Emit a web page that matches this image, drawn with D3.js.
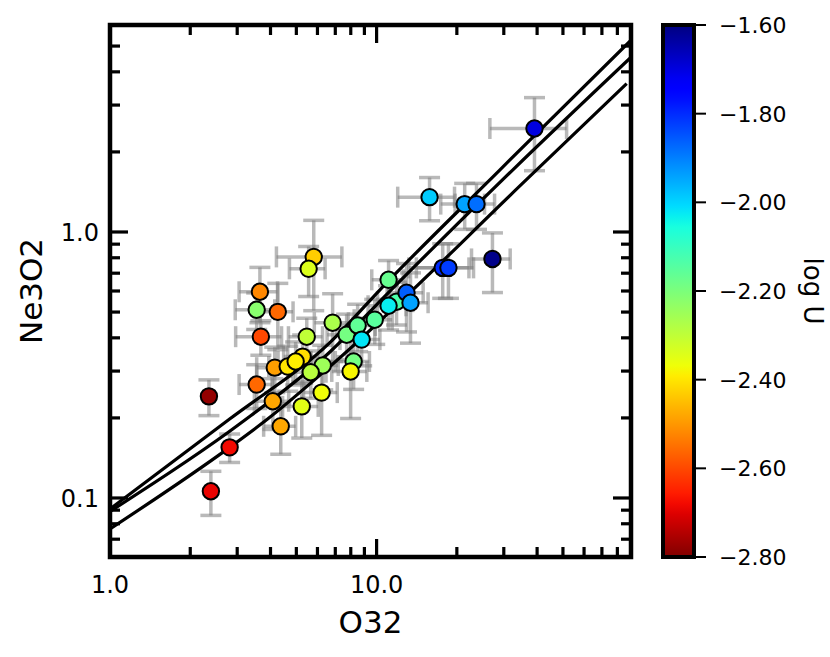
<!DOCTYPE html>
<html>
<head>
<meta charset="utf-8">
<script src="https://cdn.jsdelivr.net/npm/d3@7"></script>
<style>
  html, body { margin: 0; padding: 0; background: #fff; }
  svg { display: block; font-family: "DejaVu Sans", sans-serif; }
</style>
</head>
<body>
<svg id="chart" width="830" height="657"></svg>
<script>
// ---------------- data ----------------
const o32 = [2.35, 2.39, 2.81, 5.81, 5.56, 3.65, 3.55, 4.26, 3.68, 5.47,
             6.84, 7.72, 8.49, 8.79, 9.84, 11.09, 11.88, 11.09, 12.95, 13.40,
             4.15, 4.64, 5.28, 4.97, 6.28, 5.66, 8.20, 7.99, 3.55, 6.22,
             4.08, 5.24, 4.37, 15.8, 21.4, 23.7, 27.2, 17.7, 18.6, 39.1];
const ne3o2 = [0.241, 0.106, 0.155, 0.806, 0.727, 0.596, 0.510, 0.501, 0.404, 0.404,
               0.456, 0.411, 0.445, 0.394, 0.468, 0.661, 0.547, 0.528, 0.591, 0.542,
               0.309, 0.312, 0.340, 0.326, 0.315, 0.297, 0.326, 0.299, 0.267, 0.249,
               0.231, 0.221, 0.186, 1.352, 1.273, 1.273, 0.792, 0.733, 0.733, 2.45];
const logU = [-2.78, -2.69, -2.68, -2.43, -2.34, -2.52, -2.22, -2.56, -2.60, -2.30,
              -2.27, -2.19, -2.16, -2.02, -2.15, -2.17, -2.13, -2.03, -1.86, -1.94,
              -2.49, -2.40, -2.41, -2.39, -2.25, -2.29, -2.19, -2.38, -2.56, -2.37,
              -2.48, -2.35, -2.48, -1.99, -1.94, -1.88, -1.61, -1.80, -1.82, -1.70];
const o32Err = [0, 0, 0, 1.6, 0.85, 0.6, 0.6, 0.6, 0.72, 0.8,
                1.0, 1.2, 1.4, 1.5, 1.6, 1.5, 1.8, 1.8, 2.0, 2.2,
                0.6, 0.7, 0.8, 0.7, 0.9, 0.8, 1.2, 1.2, 0.5, 0.9,
                0.6, 0.8, 0.6, 3.8, 4.0, 4.0, 4.5, 4.5, 4.5, 12.5];
const ne3o2Err = [0.037, 0.02, 0.019, 0.30, 0.155, 0.14, 0.08, 0.14, 0.06, 0.07,
                  0.13, 0.08, 0.09, 0.08, 0.09, 0.12, 0.10, 0.10, 0.17, 0.16,
                  0.06, 0.06, 0.07, 0.06, 0.06, 0.06, 0.07, 0.10, 0.05, 0.077,
                  0.05, 0.053, 0.04, 0.25, 0.25, 0.25, 0.20, 0.17, 0.17, 0.75];

// model curves
const modelA_O32 = [1.0, 2.81, 6.68, 10.9, 28.9, 89.6];
const modelA_Ne3O2 = [0.091, 0.198, 0.384, 0.644, 1.706, 5.24];
const modelB_O32 = [1.0, 3.07, 6.68, 11.1, 32.3, 89.6];
const modelB_Ne3O2 = [0.089, 0.19, 0.354, 0.593, 1.706, 4.52];
const modelC_O32 = [1.0, 2.81, 3.90, 6.68, 37.3, 86.7];
const modelC_Ne3O2 = [0.0765, 0.155, 0.198, 0.312, 1.607, 3.61];

const xDomain = [1, 90];
const yDomain = [0.06, 6];
const xMajor = [1, 10];
const xMajorLabels = ["1.0", "10.0"];
const yMajor = [0.1, 1];
const yMajorLabels = ["0.1", "1.0"];
const cbDomain = [-2.8, -1.6];
const cbTicks = [-1.6, -1.8, -2.0, -2.2, -2.4, -2.6, -2.8];
const cbTickLabels = ["\u22121.60", "\u22121.80", "\u22122.00", "\u22122.20", "\u22122.40", "\u22122.60", "\u22122.80"];

// ---------------- layout ----------------
const L = 110, R = 631, T = 25, B = 557;
const svg = d3.select("#chart");
const x = d3.scaleLog().domain(xDomain).range([L, R]);
const y = d3.scaleLog().domain(yDomain).range([B, T]);

// jet colormap (matplotlib segment data), reversed
const jr = d3.scaleLinear().domain([0, 0.35, 0.66, 0.89, 1]).range([0, 0, 1, 1, 0.5]).clamp(true);
const jg = d3.scaleLinear().domain([0, 0.125, 0.375, 0.64, 0.91, 1]).range([0, 0, 1, 1, 0, 0]).clamp(true);
const jb = d3.scaleLinear().domain([0, 0.11, 0.34, 0.65, 1]).range([0.5, 1, 1, 0, 0]).clamp(true);
const tScale = d3.scaleLinear().domain(cbDomain).range([1, 0]).clamp(true);
function jetR(v) {
  const t = tScale(v);
  return d3.rgb(jr(t) * 255, jg(t) * 255, jb(t) * 255).formatHex();
}

const defs = svg.append("defs");
defs.append("clipPath").attr("id", "plotclip")
  .append("rect").attr("x", L).attr("y", T).attr("width", R - L).attr("height", B - T);

// ---------------- error bars ----------------
const pts = o32.map((d, i) => ({x: d, y: ne3o2[i], u: logU[i], xe: o32Err[i], ye: ne3o2Err[i]}));
const eg = svg.append("g").attr("clip-path", "url(#plotclip)")
  .attr("stroke", "#808080").attr("stroke-opacity", 0.55).attr("stroke-width", 3.5).attr("fill", "none");
const cap = 10.5;
pts.forEach(p => {
  const cx = x(p.x), cy = y(p.y);
  if (p.ye > 0) {
    const y1 = y(p.y + p.ye), y2 = y(Math.max(p.y - p.ye, 1e-4));
    eg.append("line").attr("x1", cx).attr("x2", cx).attr("y1", y1).attr("y2", y2);
    eg.append("line").attr("x1", cx - cap).attr("x2", cx + cap).attr("y1", y1).attr("y2", y1);
    eg.append("line").attr("x1", cx - cap).attr("x2", cx + cap).attr("y1", y2).attr("y2", y2);
  }
  if (p.xe > 0) {
    const x1 = x(Math.max(p.x - p.xe, 1e-4)), x2 = x(p.x + p.xe);
    eg.append("line").attr("x1", x1).attr("x2", x2).attr("y1", cy).attr("y2", cy);
    eg.append("line").attr("x1", x1).attr("x2", x1).attr("y1", cy - cap).attr("y2", cy + cap);
    eg.append("line").attr("x1", x2).attr("x2", x2).attr("y1", cy - cap).attr("y2", cy + cap);
  }
});

// ---------------- model curves ----------------
const line = d3.line().x(d => x(d[0])).y(d => y(d[1])).curve(d3.curveMonotoneX);
const cg = svg.append("g").attr("clip-path", "url(#plotclip)");
[[modelA_O32, modelA_Ne3O2], [modelB_O32, modelB_Ne3O2], [modelC_O32, modelC_Ne3O2]].forEach(([xs, ys]) => {
  cg.append("path").datum(xs.map((v, i) => [v, ys[i]]))
    .attr("d", line).attr("fill", "none").attr("stroke", "#000").attr("stroke-width", 3.2);
});

// ---------------- points ----------------
svg.append("g").selectAll("circle").data(pts).join("circle")
  .attr("cx", d => x(d.x)).attr("cy", d => y(d.y)).attr("r", 8.2)
  .attr("fill", d => jetR(d.u)).attr("stroke", "#000").attr("stroke-width", 2);

// ---------------- ticks ----------------
const tg = svg.append("g").attr("stroke", "#000").attr("stroke-width", 3.2);
const majLen = 18, minLen = 10;
x.ticks().forEach(v => {
  const isMaj = xMajor.some(m => Math.abs(m - v) < 1e-9);
  const len = isMaj ? majLen : minLen;
  const px = x(v);
  if (px <= L + 1 || px >= R - 1) return;
  tg.append("line").attr("x1", px).attr("x2", px).attr("y1", B).attr("y2", B - len);
  tg.append("line").attr("x1", px).attr("x2", px).attr("y1", T).attr("y2", T + len);
});
y.ticks().forEach(v => {
  const isMaj = yMajor.some(m => Math.abs(m - v) < 1e-9);
  const len = isMaj ? majLen : minLen;
  const py = y(v);
  if (py <= T + 1 || py >= B - 1) return;
  tg.append("line").attr("x1", L).attr("x2", L + len).attr("y1", py).attr("y2", py);
  tg.append("line").attr("x1", R).attr("x2", R - len).attr("y1", py).attr("y2", py);
});

// frame
svg.append("rect").attr("x", L).attr("y", T).attr("width", R - L).attr("height", B - T)
  .attr("fill", "none").attr("stroke", "#000").attr("stroke-width", 4.5);

// tick labels
xMajor.forEach((v, i) => {
  svg.append("text").attr("x", x(v)).attr("y", 593).attr("text-anchor", "middle")
    .attr("font-size", 24).text(xMajorLabels[i]);
});
yMajor.forEach((v, i) => {
  svg.append("text").attr("x", 99).attr("y", y(v)).attr("dy", "0.36em").attr("text-anchor", "end")
    .attr("font-size", 24).text(yMajorLabels[i]);
});

// axis labels
svg.append("text").attr("x", (L + R) / 2).attr("y", 633).attr("text-anchor", "middle")
  .attr("font-size", 31).text("O32");
svg.append("text").attr("transform", `translate(42,${(T + B) / 2}) rotate(-90)`)
  .attr("text-anchor", "middle").attr("font-size", 31).text("Ne3O2");

// ---------------- colorbar ----------------
const cbX = 663, cbW = 31;
const cy = d3.scaleLinear().domain(cbDomain).range([B, T]);
const grad = defs.append("linearGradient").attr("id", "cbgrad")
  .attr("x1", 0).attr("y1", 1).attr("x2", 0).attr("y2", 0);
d3.range(0, 1.0001, 0.02).forEach(f => {
  const v = cbDomain[0] + f * (cbDomain[1] - cbDomain[0]);
  grad.append("stop").attr("offset", f).attr("stop-color", jetR(v));
});
svg.append("rect").attr("x", cbX).attr("y", T).attr("width", cbW).attr("height", B - T)
  .attr("fill", "url(#cbgrad)").attr("stroke", "#000").attr("stroke-width", 4);
cbTicks.forEach((v, i) => {
  const py = cy(v);
  svg.append("line").attr("x1", cbX + cbW).attr("x2", cbX + cbW + 12).attr("y1", py).attr("y2", py)
    .attr("stroke", "#000").attr("stroke-width", 2);
  svg.append("text").attr("x", cbX + cbW + 25).attr("y", py).attr("dy", "0.36em")
    .attr("font-size", 22).text(cbTickLabels[i]);
});
svg.append("text").attr("transform", `translate(804,${(T + B) / 2}) rotate(90)`)
  .attr("text-anchor", "middle").attr("font-size", 26).text("log U");
</script>
</body>
</html>
